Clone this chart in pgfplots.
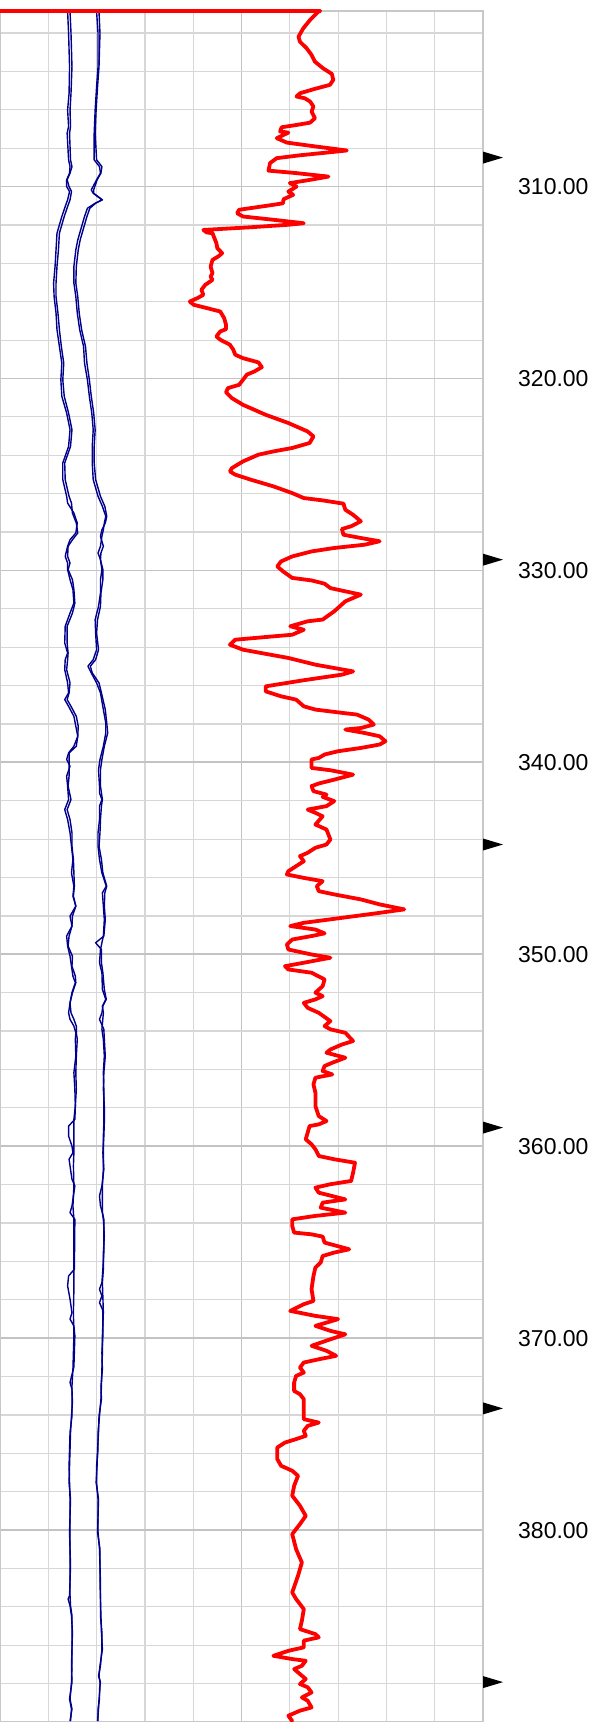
\documentclass[border=0pt]{standalone}
\usepackage{pgfplots}
\pgfplotsset{compat=1.18}
\usepackage{fontspec}
\setmainfont{Liberation Sans}
\definecolor{logblue}{RGB}{0,0,140}
\definecolor{minorgrid}{RGB}{215,215,215}
\definecolor{majorgrid}{RGB}{195,195,195}
\definecolor{framegray}{RGB}{200,200,200}
\pgfdeclareplotmark{rtri}{%
  \pgfpathmoveto{\pgfqpoint{-10pt}{6pt}}%
  \pgfpathlineto{\pgfqpoint{10pt}{0pt}}%
  \pgfpathlineto{\pgfqpoint{-10pt}{-6pt}}%
  \pgfpathclose\pgfusepathqfill}
\begin{document}
\begin{tikzpicture}
\useasboundingbox (0,0) rectangle (595pt,1722pt);
\begin{axis}[
  at={(0pt,0pt)}, anchor=south west,
  scale only axis, width=483pt, height=1711pt,
  xmin=0, xmax=10, ymin=300.85, ymax=390, y dir=reverse,
  xtick={0,5,10}, minor xtick={1,2,3,4,6,7,8,9},
  ytick={310,320,...,380}, minor ytick={302,304,...,388},
  xticklabels={},
  yticklabel pos=right,
  yticklabels={310.00,320.00,330.00,340.00,350.00,360.00,370.00,380.00},
  major tick length=0pt, minor tick length=0pt,
  tick style={draw=none},
  grid=both,
  major grid style={draw=majorgrid, line width=1.8pt},
  minor grid style={draw=minorgrid, line width=1.2pt},
  axis line style={draw=framegray, line width=2.5pt},
  yticklabel style={anchor=west, inner sep=0pt, xshift=35pt, font=\fontsize{23}{27}\selectfont},
  clip=false,
]
% left caliper pair
\addplot[logblue, line width=1.4pt, line join=round] coordinates {
(1.40,300.89)(1.42,302.01)(1.44,303.75)(1.43,305.14)(1.40,306.01)(1.42,306.87)(1.39,307.22)(1.42,308.61)(1.45,308.96)(1.44,309.30)(1.38,309.65)(1.38,310.00)(1.44,310.26)(1.40,310.69)(1.35,311.04)(1.28,311.56)(1.22,312.08)(1.18,312.43)(1.16,313.30)(1.14,314.16)(1.11,315.03)(1.12,315.73)(1.16,316.59)(1.18,317.46)(1.23,318.33)(1.28,319.20)(1.26,320.07)(1.28,320.93)(1.38,321.80)(1.45,322.67)(1.42,323.54)(1.30,324.40)(1.30,325.27)(1.38,326.14)(1.40,326.49)(1.53,327.01)(1.60,327.53)(1.57,328.05)(1.45,328.40)(1.40,328.74)(1.35,329.27)(1.40,329.61)(1.40,329.96)(1.45,330.48)(1.51,331.00)(1.53,331.70)(1.45,332.22)(1.35,332.91)(1.34,333.78)(1.40,334.30)(1.35,334.65)(1.34,335.17)(1.40,335.86)(1.42,336.38)(1.34,336.73)(1.42,337.08)(1.53,337.60)(1.57,338.12)(1.61,338.64)(1.53,339.16)(1.42,339.51)(1.38,339.85)(1.45,340.20)(1.38,340.72)(1.40,341.24)(1.42,341.94)(1.34,342.46)(1.40,342.98)(1.45,343.67)(1.48,344.37)(1.51,345.06)(1.48,345.76)(1.53,346.45)(1.51,346.97)(1.57,347.49)(1.45,348.01)(1.49,348.53)(1.38,349.05)(1.40,349.57)(1.45,350.10)(1.48,350.62)(1.51,351.14)(1.56,351.48)(1.49,352.00)(1.45,352.53)(1.42,353.05)(1.45,353.39)(1.53,353.74)(1.57,354.09)(1.56,354.43)(1.57,355.30)(1.53,356.17)(1.55,357.04)(1.56,357.91)(1.53,358.60)(1.53,359.47)(1.53,360.34)(1.52,361.03)(1.53,362.07)(1.51,363.11)(1.53,363.81)(1.53,365.54)(1.53,366.41)(1.53,367.45)(1.52,368.67)(1.53,369.88)(1.52,370.75)(1.51,371.62)(1.49,372.49)(1.49,373.35)(1.49,374.05)(1.45,374.92)(1.44,375.78)(1.43,376.65)(1.44,377.52)(1.45,378.39)(1.45,380.12)(1.45,381.86)(1.45,383.42)(1.46,383.94)(1.49,384.46)(1.49,385.33)(1.49,387.07)(1.48,387.93)(1.45,388.80)(1.49,389.32)(1.45,389.95)
};
\addplot[logblue, line width=1.4pt, line join=round] coordinates {
(1.45,300.89)(1.47,302.01)(1.49,303.75)(1.47,305.14)(1.45,306.01)(1.46,306.87)(1.44,307.22)(1.46,308.61)(1.49,308.96)(1.45,309.30)(1.39,309.65)(1.43,310.00)(1.48,310.26)(1.45,310.69)(1.40,311.04)(1.33,311.56)(1.27,312.08)(1.23,312.43)(1.21,313.30)(1.18,314.16)(1.16,315.03)(1.16,315.73)(1.20,316.59)(1.23,317.46)(1.27,318.33)(1.32,319.20)(1.30,320.07)(1.33,320.93)(1.42,321.80)(1.49,322.67)(1.46,323.54)(1.34,324.40)(1.35,325.27)(1.43,326.14)(1.48,326.49)(1.50,327.01)(1.58,327.53)(1.61,328.05)(1.50,328.40)(1.41,328.74)(1.40,329.27)(1.45,329.61)(1.41,329.96)(1.50,330.48)(1.53,331.00)(1.55,331.70)(1.50,332.22)(1.39,332.91)(1.39,333.78)(1.41,334.30)(1.40,334.65)(1.38,335.17)(1.45,335.86)(1.43,336.38)(1.39,336.73)(1.47,337.08)(1.58,337.60)(1.62,338.12)(1.61,338.64)(1.58,339.16)(1.43,339.51)(1.43,339.85)(1.43,340.20)(1.43,340.72)(1.41,341.24)(1.47,341.94)(1.39,342.46)(1.45,342.98)(1.49,343.67)(1.49,344.37)(1.52,345.06)(1.53,345.76)(1.54,346.45)(1.52,346.97)(1.57,347.49)(1.50,348.01)(1.49,348.53)(1.43,349.05)(1.41,349.57)(1.50,350.10)(1.49,350.62)(1.56,351.14)(1.57,351.48)(1.50,352.00)(1.45,352.53)(1.47,353.05)(1.53,353.39)(1.58,353.74)(1.58,354.09)(1.60,354.43)(1.58,355.30)(1.57,356.17)(1.58,357.04)(1.56,357.91)(1.55,358.60)(1.42,358.95)(1.42,359.47)(1.49,359.99)(1.51,360.34)(1.43,360.68)(1.45,361.03)(1.49,361.72)(1.55,362.07)(1.49,363.11)(1.45,363.46)(1.55,363.81)(1.54,366.41)(1.42,366.76)(1.40,367.28)(1.45,367.97)(1.49,368.67)(1.45,369.01)(1.53,369.36)(1.55,369.88)(1.53,371.50)(1.45,372.31)(1.49,372.66)(1.50,373.35)(1.48,374.05)(1.46,374.92)(1.45,375.78)(1.44,376.65)(1.43,377.52)(1.46,378.39)(1.44,380.12)(1.46,381.86)(1.44,383.42)(1.41,383.59)(1.45,383.94)(1.48,384.46)(1.50,385.33)(1.48,387.07)(1.49,387.93)(1.44,388.80)(1.48,389.32)(1.46,389.95)
};
% right caliper pair
\addplot[logblue, line width=1.4pt, line join=round] coordinates {
(2.00,300.89)(2.03,302.01)(2.03,303.75)(2.00,304.79)(1.97,306.01)(1.95,307.22)(1.95,308.61)(2.06,308.96)(2.08,309.30)(2.00,309.65)(1.89,310.17)(1.93,310.35)(2.11,310.69)(1.97,310.87)(1.81,311.13)(1.75,311.56)(1.65,312.43)(1.61,312.78)(1.57,313.30)(1.53,314.16)(1.53,315.03)(1.57,315.73)(1.60,316.59)(1.65,317.46)(1.73,318.33)(1.75,319.20)(1.81,320.07)(1.85,320.93)(1.90,321.80)(1.93,322.67)(1.91,323.54)(1.91,324.40)(1.93,325.27)(2.03,326.14)(2.12,326.66)(2.19,327.18)(2.16,327.53)(2.14,327.88)(2.11,328.22)(2.08,328.74)(2.03,329.09)(2.08,329.44)(2.11,329.96)(2.08,330.48)(2.08,331.18)(2.04,331.87)(1.97,332.56)(1.98,333.26)(2.00,334.13)(1.93,334.65)(1.82,334.99)(1.89,335.34)(2.00,335.86)(2.08,336.38)(2.14,337.25)(2.19,337.95)(2.19,338.47)(2.14,339.16)(2.07,339.85)(2.04,340.38)(2.06,341.24)(2.06,341.59)(2.11,341.94)(2.06,342.28)(2.06,342.98)(2.03,343.67)(2.03,344.37)(2.06,345.06)(2.11,345.76)(2.20,346.45)(2.12,346.80)(2.14,347.49)(2.16,348.19)(2.14,349.05)(2.08,349.75)(2.06,350.44)(2.11,350.96)(2.12,351.83)(2.19,352.35)(2.12,352.70)(2.14,353.05)(2.11,353.91)(2.14,354.43)(2.16,355.30)(2.14,356.17)(2.15,357.04)(2.15,357.91)(2.15,358.77)(2.14,359.47)(2.14,360.34)(2.14,361.20)(2.12,362.07)(2.12,363.46)(2.14,363.81)(2.16,364.68)(2.14,365.54)(2.14,366.41)(2.12,367.11)(2.14,368.67)(2.12,369.88)(2.12,370.75)(2.11,371.62)(2.10,372.49)(2.09,373.18)(2.06,374.05)(2.03,374.92)(2.03,375.78)(2.00,376.65)(2.00,377.52)(2.03,378.39)(2.03,380.12)(2.06,380.99)(2.08,382.73)(2.08,384.46)(2.11,385.33)(2.11,386.20)(2.08,387.07)(2.04,387.59)(2.08,387.93)(2.06,388.28)(2.06,388.80)(2.03,389.32)(2.03,389.95)
};
\addplot[logblue, line width=1.4pt, line join=round] coordinates {
(2.05,300.89)(2.07,302.01)(2.05,303.75)(2.02,304.79)(1.99,306.01)(1.97,307.22)(2.00,308.61)(2.11,308.96)(2.09,309.30)(2.01,309.65)(1.94,310.17)(1.94,310.35)(2.12,310.69)(1.98,310.87)(1.86,311.13)(1.80,311.56)(1.70,312.43)(1.66,312.78)(1.62,313.30)(1.58,314.16)(1.57,315.03)(1.61,315.73)(1.64,316.59)(1.69,317.46)(1.77,318.33)(1.80,319.20)(1.85,320.07)(1.89,320.93)(1.94,321.80)(1.97,322.67)(1.95,323.54)(1.95,324.40)(1.98,325.27)(2.08,326.14)(2.17,326.66)(2.21,327.18)(2.18,327.53)(2.11,327.88)(2.08,328.22)(2.14,328.74)(2.09,329.09)(2.08,329.44)(2.13,329.96)(2.13,330.48)(2.09,331.18)(2.08,331.87)(2.02,332.56)(2.00,333.26)(2.04,334.13)(1.98,334.65)(1.87,334.99)(1.91,335.34)(2.05,335.86)(2.10,336.38)(2.18,337.25)(2.21,337.95)(2.23,338.47)(2.16,339.16)(2.11,339.85)(2.08,340.38)(2.08,341.24)(2.10,341.59)(2.12,341.94)(2.10,342.28)(2.08,342.98)(2.07,343.67)(2.05,344.37)(2.10,345.06)(2.13,345.76)(2.21,346.45)(2.17,346.80)(2.16,347.49)(2.18,348.19)(2.15,349.05)(1.98,349.40)(2.10,349.75)(2.10,350.44)(2.13,350.96)(2.16,351.83)(2.20,352.35)(2.13,352.70)(2.11,353.05)(2.06,353.39)(2.15,353.91)(2.16,354.43)(2.18,355.30)(2.15,356.17)(2.14,357.04)(2.16,357.91)(2.16,358.77)(2.15,359.47)(2.13,360.34)(2.15,361.20)(2.11,362.07)(2.06,362.59)(2.08,363.11)(2.12,363.46)(2.15,363.81)(2.15,364.68)(2.15,365.54)(2.13,366.41)(2.11,367.11)(2.06,367.45)(2.11,367.80)(2.06,368.15)(2.12,368.49)(2.13,368.67)(2.13,369.88)(2.11,370.75)(2.12,371.62)(2.09,372.49)(2.10,373.18)(2.05,374.05)(2.04,374.92)(2.02,375.78)(2.01,376.65)(1.99,377.52)(2.04,378.39)(2.02,380.12)(2.07,380.99)(2.07,382.73)(2.09,384.46)(2.10,385.33)(2.12,386.20)(2.07,387.07)(2.05,387.59)(2.07,387.93)(2.07,388.28)(2.05,388.80)(2.04,389.32)(2.02,389.95)
};
% red curve
\addplot[red, line width=3.8pt, line join=round, line cap=round] coordinates {
(0,300.85)(6.63,300.85)(6.59,300.89)(6.42,301.32)(6.28,301.75)(6.18,302.19)(6.21,302.45)(6.35,302.80)(6.45,303.14)(6.52,303.49)(6.69,303.84)(6.87,304.13)(6.90,304.44)(6.83,304.70)(6.49,304.93)(6.21,305.14)(6.14,305.31)(6.31,305.40)(6.42,305.57)(6.49,305.83)(6.45,306.09)(6.52,306.44)(6.42,306.67)(6.14,306.79)(5.83,306.91)(5.80,307.13)(5.97,307.19)(5.87,307.31)(5.73,307.48)(5.94,307.71)(6.56,307.92)(7.18,308.12)(6.76,308.23)(6.21,308.37)(5.73,308.52)(5.59,308.78)(5.56,309.17)(6.14,309.30)(6.80,309.48)(6.42,309.65)(6.00,309.82)(6.14,310.00)(5.97,310.26)(6.07,310.43)(5.87,310.66)(5.86,310.87)(5.66,310.95)(4.95,311.21)(4.91,311.39)(5.03,311.56)(5.66,311.73)(6.29,311.91)(5.97,311.99)(5.19,312.12)(4.21,312.26)(4.28,312.39)(4.40,312.43)(4.44,312.69)(4.48,312.95)(4.50,313.21)(4.60,313.47)(4.52,313.64)(4.40,313.82)(4.36,314.17)(4.40,314.51)(4.36,314.69)(4.40,314.86)(4.25,315.12)(4.17,315.38)(4.21,315.64)(4.09,315.81)(3.93,315.99)(4.01,316.16)(4.28,316.33)(4.56,316.51)(4.64,316.85)(4.68,317.20)(4.68,317.43)(4.56,317.55)(4.48,317.81)(4.56,317.98)(4.76,318.24)(4.83,318.50)(4.87,318.76)(5.03,318.94)(5.35,319.16)(5.42,319.41)(5.27,319.63)(5.11,319.80)(5.03,320.07)(4.95,320.33)(4.72,320.50)(4.68,320.72)(4.80,321.02)(5.03,321.37)(5.50,321.89)(5.97,322.32)(6.37,322.76)(6.49,323.02)(6.41,323.36)(6.05,323.62)(5.66,323.80)(5.35,323.97)(5.03,324.32)(4.80,324.67)(4.76,324.84)(4.87,325.01)(5.19,325.27)(5.66,325.62)(6.05,325.97)(6.29,326.23)(6.68,326.35)(7.11,326.52)(7.15,326.84)(7.31,327.10)(7.47,327.44)(7.27,327.70)(7.08,327.84)(7.11,328.14)(7.47,328.31)(7.86,328.48)(7.55,328.66)(6.92,328.83)(6.45,329.01)(6.05,329.27)(5.82,329.53)(5.74,329.79)(5.86,330.05)(6.05,330.39)(6.45,330.52)(6.72,330.69)(6.84,330.92)(7.15,331.09)(7.47,331.26)(7.15,331.61)(6.92,332.13)(6.68,332.56)(6.37,332.65)(6.01,332.91)(6.29,333.09)(6.05,333.35)(5.50,333.47)(4.87,333.61)(4.76,333.87)(5.03,334.13)(5.97,334.56)(6.53,334.91)(7.31,335.26)(7.08,335.43)(6.29,335.72)(5.50,336.04)(5.50,336.30)(5.82,336.56)(6.13,336.73)(6.29,337.08)(6.53,337.25)(7.08,337.42)(7.39,337.51)(7.63,337.77)(7.74,338.03)(7.47,338.21)(7.15,338.29)(7.55,338.47)(7.86,338.64)(7.98,338.90)(7.86,339.07)(7.47,339.25)(7.00,339.42)(6.72,339.59)(6.60,339.77)(6.45,339.85)(6.45,340.29)(6.84,340.41)(7.31,340.64)(6.92,340.90)(6.60,341.10)(6.45,341.24)(6.49,341.50)(6.76,341.68)(6.68,341.80)(6.92,342.02)(6.76,342.28)(6.37,342.46)(6.53,342.63)(6.68,342.81)(6.53,343.24)(6.76,343.50)(6.84,344.02)(6.76,344.28)(6.53,344.45)(6.37,344.71)(6.21,344.89)(6.29,345.15)(6.13,345.41)(5.97,345.67)(5.94,345.84)(6.29,346.02)(6.68,346.19)(6.56,346.45)(6.60,346.71)(6.92,346.88)(7.47,347.14)(7.86,347.40)(8.37,347.66)(7.86,347.84)(7.08,348.10)(6.29,348.36)(6.01,348.53)(6.53,348.71)(6.72,348.91)(6.45,349.05)(6.05,349.23)(5.94,349.49)(5.97,349.75)(6.45,350.01)(6.84,350.18)(6.29,350.44)(5.90,350.62)(5.97,350.79)(6.45,350.96)(6.72,351.31)(6.68,351.66)(6.53,352.00)(6.68,352.18)(6.53,352.35)(6.29,352.53)(6.37,352.79)(6.60,353.05)(6.84,353.48)(6.72,353.74)(6.84,353.91)(7.15,354.09)(7.31,354.52)(7.08,354.70)(6.84,354.96)(6.76,355.13)(7.15,355.39)(6.88,355.65)(6.72,355.82)(6.68,356.08)(6.88,356.26)(6.53,356.43)(6.49,356.78)(6.53,357.21)(6.53,357.91)(6.60,358.43)(6.76,358.69)(6.60,358.86)(6.41,358.95)(6.37,359.29)(6.33,359.64)(6.45,359.90)(6.53,360.16)(6.60,360.51)(6.92,360.68)(7.35,360.86)(7.31,361.38)(7.27,361.81)(6.84,361.98)(6.53,362.16)(6.60,362.42)(7.15,362.77)(6.68,362.94)(6.64,363.20)(7.15,363.46)(6.53,363.63)(6.05,363.81)(6.05,364.15)(6.09,364.50)(6.45,364.59)(6.68,364.71)(6.72,365.02)(7.23,365.37)(6.92,365.54)(6.68,365.72)(6.64,366.06)(6.53,366.32)(6.49,366.76)(6.45,367.45)(6.49,368.06)(6.29,368.23)(6.01,368.58)(6.53,368.84)(7.00,369.01)(6.76,369.19)(6.53,369.36)(6.84,369.62)(7.15,369.80)(6.84,370.06)(6.45,370.40)(6.76,370.66)(6.96,370.92)(6.60,371.10)(6.29,371.27)(6.21,371.53)(6.29,371.79)(6.13,371.97)(6.09,372.31)(6.09,372.75)(6.21,372.92)(6.29,373.18)(6.29,373.53)(6.29,374.22)(6.60,374.40)(6.37,374.57)(6.29,374.83)(6.33,375.09)(6.13,375.26)(5.90,375.44)(5.74,375.70)(5.74,376.30)(5.82,376.65)(6.05,376.91)(6.17,377.17)(6.09,377.69)(6.05,378.21)(6.21,378.73)(6.33,379.26)(6.21,379.69)(6.05,380.21)(6.13,380.99)(6.25,381.69)(6.17,382.38)(6.05,383.25)(6.13,383.59)(6.29,384.12)(6.25,384.72)(6.21,385.16)(6.53,385.42)(6.60,385.59)(6.29,385.76)(6.29,386.11)(5.97,386.29)(5.66,386.55)(6.05,386.72)(6.33,386.81)(6.25,387.07)(6.09,387.24)(6.21,387.50)(6.33,387.76)(6.21,388.02)(6.37,388.19)(6.45,388.46)(6.25,388.72)(6.37,388.89)(6.45,389.24)(6.21,389.41)(5.97,389.67)(6.05,389.95)
};
% markers on the depth track
\addplot[only marks, mark=rtri, black] coordinates {
(10.207,308.49)(10.207,329.44)(10.207,344.28)(10.207,359.03)(10.207,373.66)(10.207,387.92)
};
\end{axis}
\end{tikzpicture}
\end{document}
